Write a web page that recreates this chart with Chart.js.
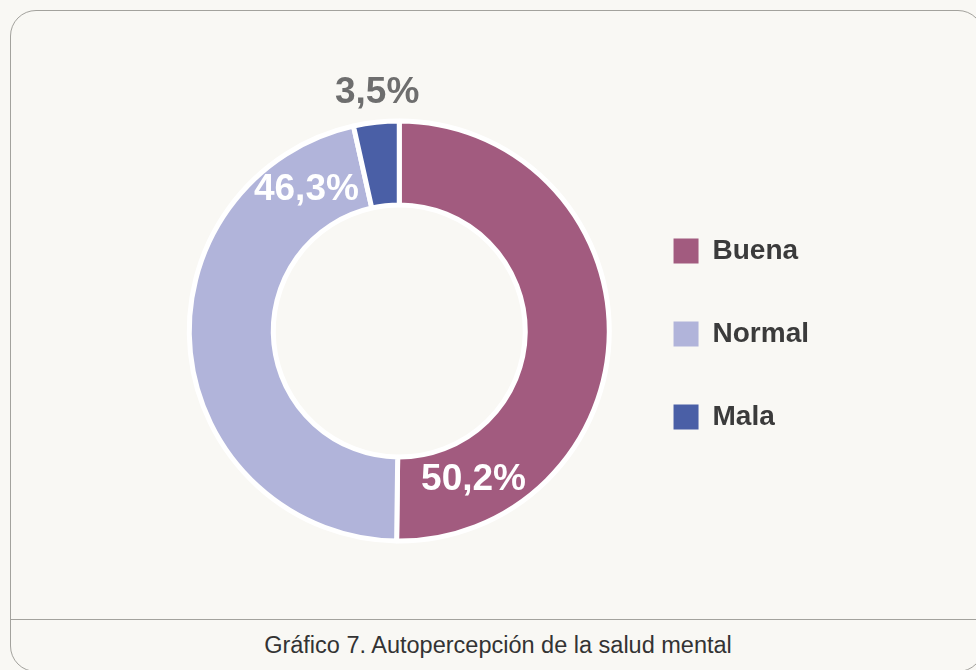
<!DOCTYPE html>
<html>
<head>
<meta charset="utf-8">
<script src="https://cdn.jsdelivr.net/npm/chart.js@4.4.1/dist/chart.umd.min.js"></script>
<style>
  html, body {
    margin: 0;
    padding: 0;
    background: #f9f8f4;
    width: 976px;
    height: 670px;
    overflow: hidden;
    font-family: "Liberation Sans", Arial, sans-serif;
  }
  #frame {
    position: absolute;
    left: 10px;
    top: 10px;
    width: 974px;
    height: 662px;
    border: 1.5px solid #a3a29d;
    border-radius: 26px;
    box-sizing: border-box;
  }
  #rule {
    position: absolute;
    left: 10px;
    top: 619px;
    width: 976px;
    height: 0;
    border-top: 1.5px solid #a3a29d;
  }
  #caption {
    position: absolute;
    left: 10px;
    width: 976px;
    top: 632px;
    text-align: center;
    font-size: 23.5px;
    color: #333;
  }
  #wrap {
    position: absolute;
    left: 0;
    top: 0;
    width: 976px;
    height: 619px;
  }
</style>
</head>
<body>
<div id="frame"></div>
<div id="rule"></div>
<div id="caption">Gráfico 7. Autopercepción de la salud mental</div>
<div id="wrap"><canvas id="chart"></canvas></div>
<script>
const categories = ["Buena", "Normal", "Mala"];
const values = [50.2, 46.3, 3.5];
const valueLabels = ["50,2%", "46,3%", "3,5%"];
const colors = ["#a25b7f", "#b1b4da", "#4a5fa6"];

// where each label sits: fraction along its slice, and a radial nudge
const labelSpots = [
  { t: 0.848, inside: true, dr: -3, color: "#ffffff" },
  { t: 0.877, inside: true, dr: 2, color: "#ffffff" },
  { t: 0.58, inside: false, dr: 30, color: "#6e6e6e" },
];

const sliceLabels = {
  id: "sliceLabels",
  afterLayout(chart) {
    // nudge the legend a touch, like the original
    chart.legend.top += 3;
    chart.legend.bottom += 3;
    chart.legend.left += 2;
    chart.legend.right += 2;
  },
  afterDatasetsDraw(chart) {
    const ctx = chart.ctx;
    const meta = chart.getDatasetMeta(0);
    ctx.save();
    ctx.font = "bold 37px 'Liberation Sans', Arial, sans-serif";
    ctx.textAlign = "center";
    ctx.textBaseline = "middle";
    meta.data.forEach((arc, i) => {
      const p = arc.getProps(["x", "y", "startAngle", "endAngle", "innerRadius", "outerRadius"], true);
      const spot = labelSpots[i];
      const a = p.startAngle + spot.t * (p.endAngle - p.startAngle);
      const base = spot.inside ? (p.innerRadius + p.outerRadius) / 2 : p.outerRadius;
      const r = base + spot.dr;
      ctx.fillStyle = spot.color;
      ctx.fillText(valueLabels[i], p.x + Math.cos(a) * r, p.y + Math.sin(a) * r + 1);
    });
    ctx.restore();
  },
};

const ctx = document.getElementById("chart").getContext("2d");
new Chart(ctx, {
  type: "doughnut",
  data: {
    labels: categories,
    datasets: [
      {
        data: values,
        backgroundColor: colors,
        borderColor: "#ffffff",
        borderWidth: 5,
        hoverBorderWidth: 5,
        hoverOffset: 0,
      },
    ],
  },
  options: {
    responsive: true,
    maintainAspectRatio: false,
    animation: false,
    cutout: "60%",
    layout: {
      padding: { left: 182, right: 159, top: 118.5, bottom: 75.5 },
    },
    plugins: {
      tooltip: { enabled: false },
      legend: {
        position: "right",
        labels: {
          boxWidth: 25,
          boxHeight: 25,
          padding: 55,
          color: "#3b3b3b",
          font: { family: "'Liberation Sans', Arial, sans-serif", size: 28, weight: "bold" },
          generateLabels(chart) {
            const items = Chart.overrides.doughnut.plugins.legend.labels.generateLabels(chart);
            items.forEach((item) => {
              item.lineWidth = 0;
              item.strokeStyle = item.fillStyle;
            });
            return items;
          },
        },
      },
    },
  },
  plugins: [sliceLabels],
});
</script>
</body>
</html>
